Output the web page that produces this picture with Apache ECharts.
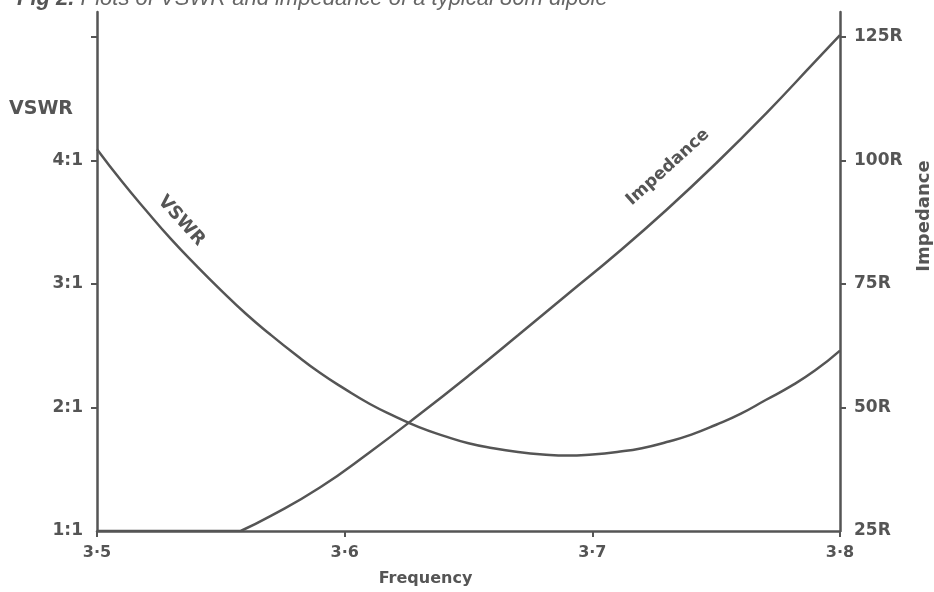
<!DOCTYPE html>
<html>
<head>
<meta charset="utf-8">
<script src="https://cdn.jsdelivr.net/npm/echarts@6/dist/echarts.min.js"></script>
<style>
  html, body { margin: 0; padding: 0; background: #fff; }
  #chart { width: 934px; height: 592px; }
</style>
</head>
<body>
<div id="chart"></div>
<script>
// 数据: 频率 (MHz) / 驻波比 / 阻抗 (ohm)
var vswrFreq = [3.50, 3.51, 3.52, 3.53, 3.54, 3.55, 3.56, 3.57, 3.58, 3.59, 3.60,
                3.61, 3.62, 3.63, 3.64, 3.65, 3.66, 3.67, 3.68, 3.69, 3.70,
                3.71, 3.72, 3.73, 3.74, 3.75, 3.76, 3.77, 3.78, 3.79, 3.80];
var vswrVals = [4.09, 3.83, 3.59, 3.36, 3.15, 2.95, 2.76, 2.59, 2.43, 2.28, 2.15,
                2.03, 1.93, 1.84, 1.77, 1.71, 1.67, 1.64, 1.62, 1.61, 1.62,
                1.64, 1.67, 1.72, 1.78, 1.86, 1.95, 2.06, 2.17, 2.30, 2.46];

// 阻抗在 3.558 以下贴着 25R 的轴线
var impFlatFreq = [3.500, 3.558];
var impFlatVals = [25, 25];
var impFreq = [3.558, 3.570, 3.590, 3.610, 3.630, 3.650, 3.670, 3.690, 3.710,
               3.730, 3.750, 3.770, 3.790, 3.800];
var impVals = [25, 28.0, 33.8, 40.9, 48.5, 56.4, 64.6, 72.9, 81.2,
               90.0, 99.4, 109.4, 120.0, 125.3];

var vswrTicks = [1, 2, 3, 4];          // 左轴标签
var impTicks = [25, 50, 75, 100, 125]; // 右轴标签

var ink = '#555555';
var font = '"DejaVu Sans", sans-serif';

function pairs(xs, ys) {
    return xs.map(function (x, i) { return [x, ys[i]]; });
}

// 两段之间断开, 拐角处不被平滑
var impData = pairs(impFlatFreq, impFlatVals)
    .concat([[impFreq[0], null]])
    .concat(pairs(impFreq, impVals));

var myChart = echarts.init(document.getElementById('chart'));

var option = {
    backgroundColor: '#ffffff',
    animation: false,
    title: {
        left: 12,
        top: -17,
        text: '{b|Fig 2.} Plots of VSWR and impedance of a typical 80m dipole',
        textStyle: {
            color: '#666',
            fontFamily: '"Liberation Sans", Arial, sans-serif',
            fontStyle: 'italic',
            fontSize: 22,
            fontWeight: 'normal',
            rich: {
                b: { fontWeight: 'bold', fontStyle: 'italic', fontSize: 22, color: '#555',
                     fontFamily: '"Liberation Sans", Arial, sans-serif' }
            }
        }
    },
    grid: { left: 97, right: 94, top: 12, bottom: 59 },
    xAxis: {
        type: 'value',
        min: 3.5,
        max: 3.8,
        interval: 0.1,
        name: 'Frequency',
        nameLocation: 'middle',
        nameGap: 40,
        nameTextStyle: {
            color: ink, fontFamily: font, fontWeight: 'bold', fontSize: 16,
            padding: [0, 86, 0, 0]
        },
        axisLine: { lineStyle: { color: ink, width: 2.5 } },
        axisTick: { show: true, length: 6, lineStyle: { color: ink, width: 2 } },
        axisLabel: {
            color: ink, fontFamily: font, fontWeight: 'bold', fontSize: 16, margin: 14,
            formatter: function (v) { return v.toFixed(1).replace('.', '·'); }
        },
        splitLine: { show: false }
    },
    yAxis: [
        {
            type: 'value',
            position: 'left',
            min: 1,
            max: 5.2,
            interval: 1,
            axisLine: { show: true, onZero: false, lineStyle: { color: ink, width: 2.5 } },
            axisTick: { show: true, length: 6, customValues: [2, 3, 4, 5], lineStyle: { color: ink, width: 2 } },
            axisLabel: {
                color: ink, fontFamily: font, fontWeight: 'bold', fontSize: 17, margin: 14,
                customValues: vswrTicks,
                formatter: function (v) { return vswrTicks.indexOf(v) >= 0 ? v + ':1' : ''; }
            },
            splitLine: { show: false }
        },
        {
            type: 'value',
            position: 'right',
            min: 25,
            max: 130,
            interval: 25,
            axisLine: { show: true, onZero: false, lineStyle: { color: ink, width: 2.5 } },
            axisTick: { show: true, length: 6, customValues: [50, 75, 100, 125], lineStyle: { color: ink, width: 2 } },
            axisLabel: {
                color: ink, fontFamily: font, fontWeight: 'bold', fontSize: 17, margin: 14,
                customValues: impTicks,
                formatter: function (v) { return impTicks.indexOf(v) >= 0 ? v + 'R' : ''; }
            },
            splitLine: { show: false }
        }
    ],
    graphic: [
        {
            type: 'text', left: 9, top: 100,
            style: { text: 'VSWR', fill: ink, font: 'bold 19px ' + font }
        },
        {
            type: 'text', x: 924, y: 216, rotation: Math.PI / 2,
            style: { text: 'Impedance', fill: ink, font: 'bold 18px ' + font,
                     align: 'center', verticalAlign: 'middle' }
        }
    ],
    series: [
        {
            name: 'VSWR',
            type: 'line',
            yAxisIndex: 0,
            smooth: 0.5,
            symbol: 'none',
            data: pairs(vswrFreq, vswrVals),
            lineStyle: { color: ink, width: 2.5 },
            markPoint: {
                symbol: 'circle', symbolSize: 0,
                label: {
                    show: true, formatter: 'VSWR', rotate: -48,
                    color: ink, fontFamily: font, fontWeight: 'bold', fontSize: 18
                },
                data: [{ coord: [3.534, 3.51] }]
            }
        },
        {
            name: 'Impedance',
            type: 'line',
            yAxisIndex: 1,
            smooth: 0.5,
            connectNulls: false,
            symbol: 'none',
            data: impData,
            lineStyle: { color: ink, width: 2.5 },
            markPoint: {
                symbol: 'circle', symbolSize: 0,
                label: {
                    show: true, formatter: 'Impedance', rotate: 42,
                    color: ink, fontFamily: font, fontWeight: 'bold', fontSize: 17
                },
                data: [{ coord: [3.7305, 98.6] }]
            }
        }
    ]
};

myChart.setOption(option);
</script>
</body>
</html>
